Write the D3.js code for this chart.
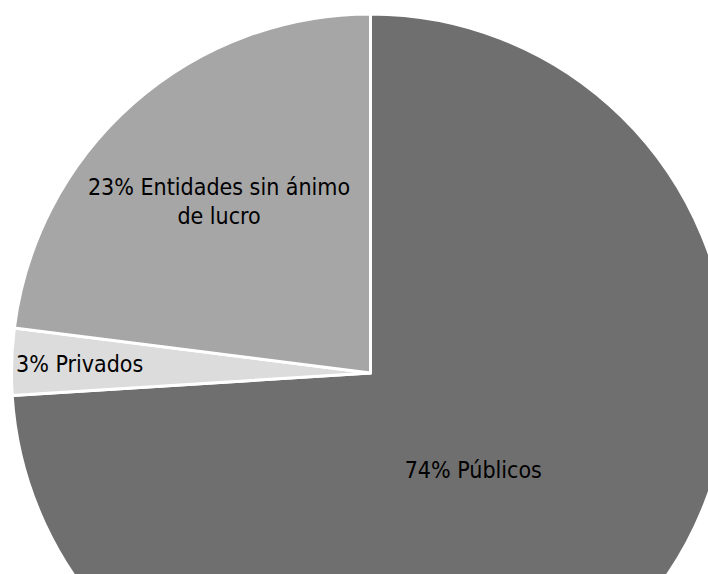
<!DOCTYPE html>
<html><head><meta charset="utf-8">
<script src="https://cdn.jsdelivr.net/npm/d3@7"></script>
<style>body{margin:0;background:#fff;}svg{display:block;}</style>
</head><body>
<svg id="c" width="708" height="574"></svg>
<script>
const categories = ["Públicos", "Privados", "Entidades sin ánimo de lucro"];
const values = [74, 3, 23];
const labelLines = [["74% Públicos"], ["3% Privados"], ["23% Entidades sin ánimo", "de lucro"]];
const colors = ["#6f6f6f", "#dcdcdc", "#a6a6a6"];
const labelRadius = [141, 291, 229];

const svg = d3.select("#c");
const cx = 370.5, cy = 373, r = 359;
const g = svg.append("g").attr("transform", `translate(${cx},${cy})`);
const pie = d3.pie().sort(null).value(d => d)(values);
const arc = d3.arc().innerRadius(0).outerRadius(r);
g.selectAll("path").data(pie).join("path")
  .attr("d", arc)
  .attr("fill", (d, i) => colors[i])
  .attr("stroke", "#fff").attr("stroke-width", 3).attr("stroke-linejoin", "round");

pie.forEach((d, i) => {
  const la = d3.arc().innerRadius(labelRadius[i]).outerRadius(labelRadius[i]);
  const [x, y] = la.centroid(d);
  const lines = labelLines[i];
  const lh = 29;
  const t = g.append("text").attr("text-anchor", "middle")
    .attr("font-family", "'DejaVu Sans Condensed', 'DejaVu Sans', sans-serif")
    .attr("font-size", 23).attr("fill", "#000");
  lines.forEach((s, k) => {
    t.append("tspan").attr("x", x)
      .attr("y", y + (k - (lines.length - 1) / 2) * lh)
      .attr("dy", "0.35em").text(s);
  });
});
</script>
</body></html>
